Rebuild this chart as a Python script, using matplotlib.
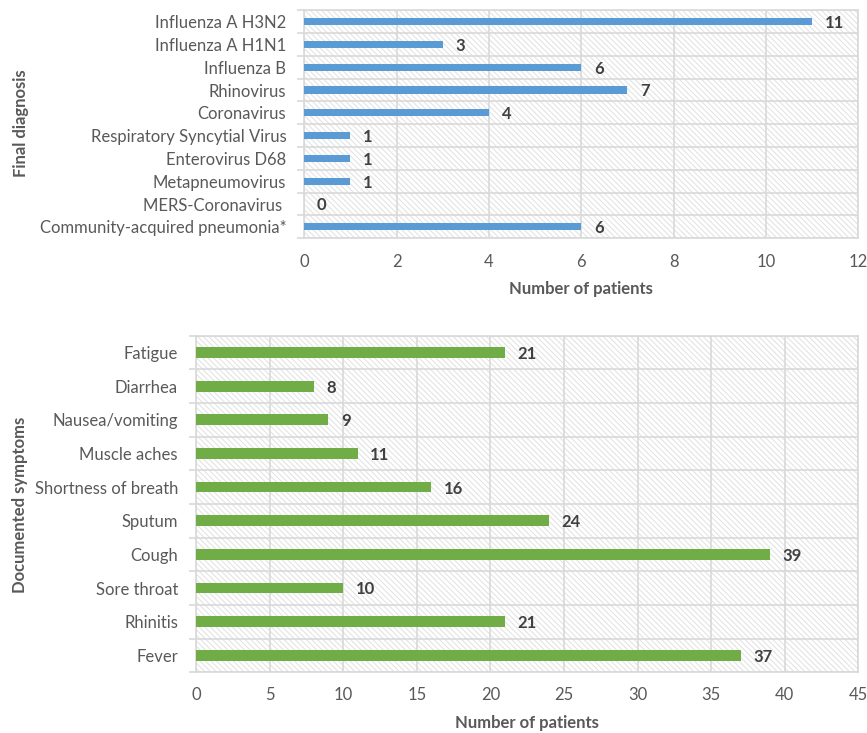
import numpy as np
import matplotlib.pyplot as plt
from matplotlib.patches import Rectangle

plt.rcParams['font.family'] = ['Lato', 'DejaVu Sans']
plt.rcParams['hatch.linewidth'] = 0.7

# data, top to bottom as shown
diagnoses = ["Influenza A H3N2", "Influenza A H1N1", "Influenza B", "Rhinovirus",
             "Coronavirus", "Respiratory Syncytial Virus", "Enterovirus D68",
             "Metapneumovirus", "MERS-Coronavirus ", "Community-acquired pneumonia*"]
diagnosis_counts = [11, 3, 6, 7, 4, 1, 1, 1, 0, 6]

symptoms = ["Fatigue", "Diarrhea", "Nausea/vomiting", "Muscle aches",
            "Shortness of breath", "Sputum", "Cough", "Sore throat", "Rhinitis", "Fever"]
symptom_counts = [21, 8, 9, 11, 16, 24, 39, 10, 21, 37]

text_grey = "#595959"
label_grey = "#404040"
grid_grey = "#d9d9d9"
fs = 12


def draw_panel(ax, cats, vals, color, xmax, step):
    n = len(cats)
    y = np.arange(n)
    ax.set_facecolor("white")
    # hatched background like the excel plot area
    bg = Rectangle((0, 0), 1, 1, transform=ax.transAxes, facecolor="white",
                   edgecolor="#e0e0e0", hatch="\\\\\\\\\\\\", linewidth=0, zorder=0)
    ax.add_patch(bg)
    ax.barh(y, vals, height=0.32, color=color, zorder=3)
    for yi, v in zip(y, vals):
        ax.annotate(str(v), (v, yi), xytext=(9, -1), textcoords="offset points",
                    va="center", ha="left", fontsize=fs, fontweight="bold",
                    color=label_grey, zorder=4)
    ax.set_xlim(0, xmax)
    ax.set_ylim(n - 0.5, -0.5)
    ax.set_xticks(np.arange(0, xmax + step, step))
    ax.set_yticks(y)
    ax.set_yticklabels(cats)
    ax.set_yticks(np.arange(n + 1) - 0.5, minor=True)
    ax.grid(axis="x", which="major", color=grid_grey, linewidth=1.2, zorder=1)
    ax.grid(axis="y", which="minor", color=grid_grey, linewidth=1.2, zorder=1)
    ax.tick_params(axis="y", which="major", length=0, pad=13, labelsize=fs,
                   labelcolor=text_grey)
    ax.tick_params(axis="y", which="minor", length=5, color=grid_grey, width=1.2)
    ax.tick_params(axis="x", length=0, pad=11, labelsize=fs, labelcolor=text_grey)
    for s in ax.spines.values():
        s.set_color(grid_grey)
        s.set_linewidth(1.2)
    ax.set_xlabel("Number of patients", fontsize=fs, fontweight="bold",
                  color=text_grey, labelpad=8)


fig = plt.figure(figsize=(8.67, 7.33), dpi=100)
ax1 = fig.add_axes([0.351, 0.675, 0.639, 0.311])
ax2 = fig.add_axes([0.226, 0.083, 0.764, 0.459])

draw_panel(ax1, diagnoses, diagnosis_counts, "#5B9BD5", 12, 2)
draw_panel(ax2, symptoms, symptom_counts, "#70AD47", 45, 5)

fig.text(21 / 867, 1 - 123 / 733, "Final diagnosis", rotation=90, ha="center",
         va="center", fontsize=fs, fontweight="bold", color=text_grey)
fig.text(20 / 867, 1 - 505 / 733, "Documented symptoms", rotation=90, ha="center",
         va="center", fontsize=fs, fontweight="bold", color=text_grey)

fig.savefig("out.png", dpi=100)
